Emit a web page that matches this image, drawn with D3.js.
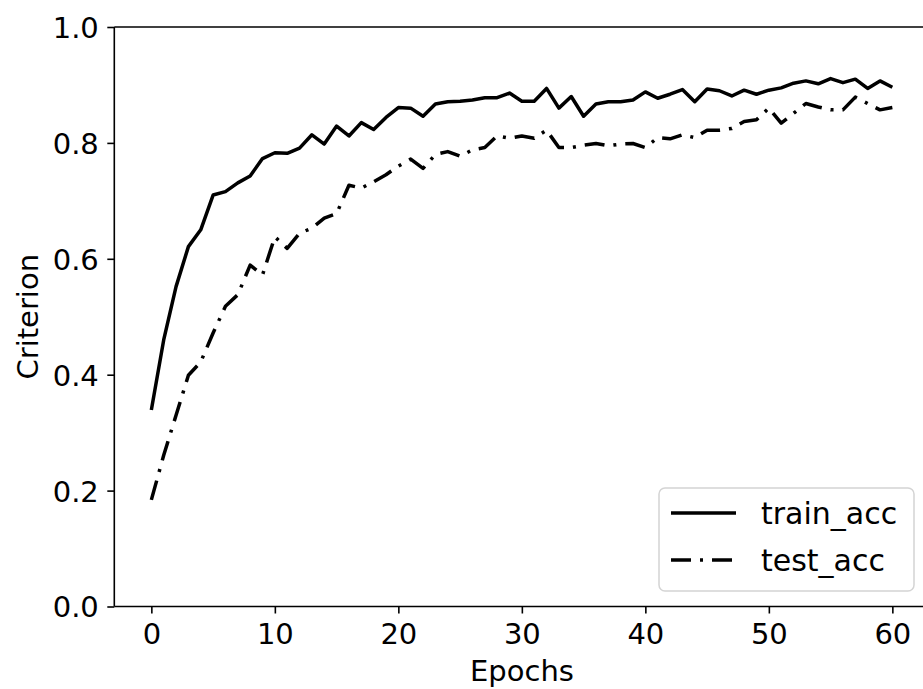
<!DOCTYPE html>
<html lang="en">

<head>
  <meta charset="utf-8" />
  <title>Criterion vs Epochs</title>
  <style>
    body {
      margin: 0;
      background: #fff;
    }

    svg {
      display: block;
      overflow: hidden;
      font-family: "DejaVu Sans", sans-serif;
    }

    .train-line {
      fill: none;
      stroke: #000;
      stroke-width: 3.5px;
      stroke-linejoin: round;
    }

    .test-line {
      fill: none;
      stroke: #000;
      stroke-width: 3.5px;
      stroke-dasharray: 20, 9, 3, 9;
      stroke-linejoin: round;
    }

    .spine {
      stroke: #000;
      stroke-width: 1.6px;
    }

    .axis path {
      display: none;
    }

    .axis line {
      stroke: #000;
      stroke-width: 1.6px;
    }

    .axis text {
      font-family: "DejaVu Sans", sans-serif;
      font-size: 29px;
      fill: #000;
    }

    .axis-label {
      font-size: 29px;
      fill: #000;
    }

    .legend-box {
      fill: rgba(255, 255, 255, 0.8);
      stroke: #d4d4d4;
      stroke-width: 1.5px;
    }

    .legend-text {
      font-size: 30px;
      fill: #000;
    }
  </style>
</head>

<body>
  <script src="https://cdn.jsdelivr.net/npm/d3@7"></script>
  <script>
    // values, index = epoch
    var trainAcc = [0.339, 0.46, 0.552, 0.621, 0.650, 0.710, 0.716, 0.731, 0.743, 0.773, 0.783,
      0.782, 0.791, 0.814, 0.798, 0.829, 0.812, 0.835, 0.823, 0.844, 0.861,
      0.860, 0.846, 0.867, 0.871, 0.872, 0.874, 0.878, 0.878, 0.886, 0.872,
      0.872, 0.894, 0.860, 0.880, 0.846, 0.867, 0.871, 0.871, 0.874, 0.888,
      0.877, 0.884, 0.892, 0.871, 0.893, 0.890, 0.881, 0.891, 0.884, 0.891,
      0.895, 0.903, 0.907, 0.902, 0.911, 0.904, 0.910, 0.894, 0.907, 0.896];

    var testAcc = [0.184, 0.261, 0.33, 0.399, 0.422, 0.472, 0.518, 0.538, 0.589, 0.572, 0.638,
      0.618, 0.644, 0.653, 0.670, 0.678, 0.727, 0.722, 0.733, 0.745, 0.760,
      0.772, 0.756, 0.780, 0.785, 0.777, 0.788, 0.792, 0.812, 0.808, 0.812,
      0.808, 0.822, 0.792, 0.792, 0.796, 0.799, 0.795, 0.798, 0.799, 0.792,
      0.809, 0.807, 0.814, 0.809, 0.822, 0.822, 0.825, 0.837, 0.840, 0.860,
      0.834, 0.851, 0.868, 0.862, 0.857, 0.857, 0.879, 0.868, 0.857, 0.861];

    var xTicks = [0, 10, 20, 30, 40, 50, 60];
    var yTicks = [0.0, 0.2, 0.4, 0.6, 0.8, 1.0];
    var seriesNames = ["train_acc", "test_acc"];

    var w = 923;
    var h = 689;
    var margin = {
      top: 27,
      left: 114.3,
      bottom: 606.5
    };

    var svg = d3.select("body")
      .append("svg")
      .attr("width", w)
      .attr("height", h);

    // x domain has matplotlib's 5% padding, right spine falls outside the picture
    var xScale = d3.scaleLinear()
      .domain([-3, 63])
      .range([margin.left, margin.left + 66 * 12.35]);

    var yScale = d3.scaleLinear()
      .domain([0, 1])
      .range([margin.bottom, margin.top]);

    var line = d3.line()
      .x(function(d, i) {
        return xScale(i);
      })
      .y(function(d) {
        return yScale(d);
      });

    svg.append("path")
      .datum(trainAcc)
      .attr("class", "train-line")
      .attr("d", line);

    svg.append("path")
      .datum(testAcc)
      .attr("class", "test-line")
      .attr("d", line);

    // spines
    svg.append("line")
      .attr("class", "spine")
      .attr("x1", margin.left)
      .attr("x2", margin.left)
      .attr("y1", margin.top)
      .attr("y2", margin.bottom);

    svg.append("line")
      .attr("class", "spine")
      .attr("x1", margin.left)
      .attr("x2", xScale(63))
      .attr("y1", margin.bottom)
      .attr("y2", margin.bottom);

    svg.append("line")
      .attr("class", "spine")
      .attr("x1", margin.left)
      .attr("x2", xScale(63))
      .attr("y1", margin.top)
      .attr("y2", margin.top);

    var xAxis = d3.axisBottom()
      .scale(xScale)
      .tickValues(xTicks)
      .tickSize(7)
      .tickSizeOuter(0)
      .tickFormat(d3.format("d"));

    var yAxis = d3.axisLeft()
      .scale(yScale)
      .tickValues(yTicks)
      .tickSize(7)
      .tickSizeOuter(0)
      .tickFormat(d3.format(".1f"));

    var gx = svg.append("g")
      .attr("class", "axis")
      .attr("transform", "translate(0," + margin.bottom + ")")
      .call(xAxis);

    gx.selectAll("text")
      .attr("y", 37.5)
      .attr("dy", null);

    var gy = svg.append("g")
      .attr("class", "axis")
      .attr("transform", "translate(" + margin.left + ",0)")
      .call(yAxis);

    gy.selectAll("text")
      .attr("x", -15.5)
      .attr("dy", "0.36em");

    svg.append("text")
      .attr("class", "axis-label")
      .attr("x", 522)
      .attr("y", 681)
      .attr("text-anchor", "middle")
      .text("Epochs");

    svg.append("text")
      .attr("class", "axis-label")
      .attr("transform", "translate(38," + ((margin.top + margin.bottom) / 2) + ") rotate(-90)")
      .attr("text-anchor", "middle")
      .text("Criterion");

    // legend
    var legend = svg.append("g")
      .attr("transform", "translate(659,488)");

    legend.append("rect")
      .attr("class", "legend-box")
      .attr("width", 255)
      .attr("height", 103)
      .attr("rx", 6)
      .attr("ry", 6);

    var legendClasses = ["train-line", "test-line"];

    seriesNames.forEach(function(name, i) {
      legend.append("line")
        .attr("class", legendClasses[i])
        .attr("x1", 12)
        .attr("x2", 77)
        .attr("y1", 25 + i * 47)
        .attr("y2", 25 + i * 47);

      legend.append("text")
        .attr("class", "legend-text")
        .attr("x", 102)
        .attr("y", 36 + i * 47)
        .text(name);
    });
  </script>
</body>

</html>
